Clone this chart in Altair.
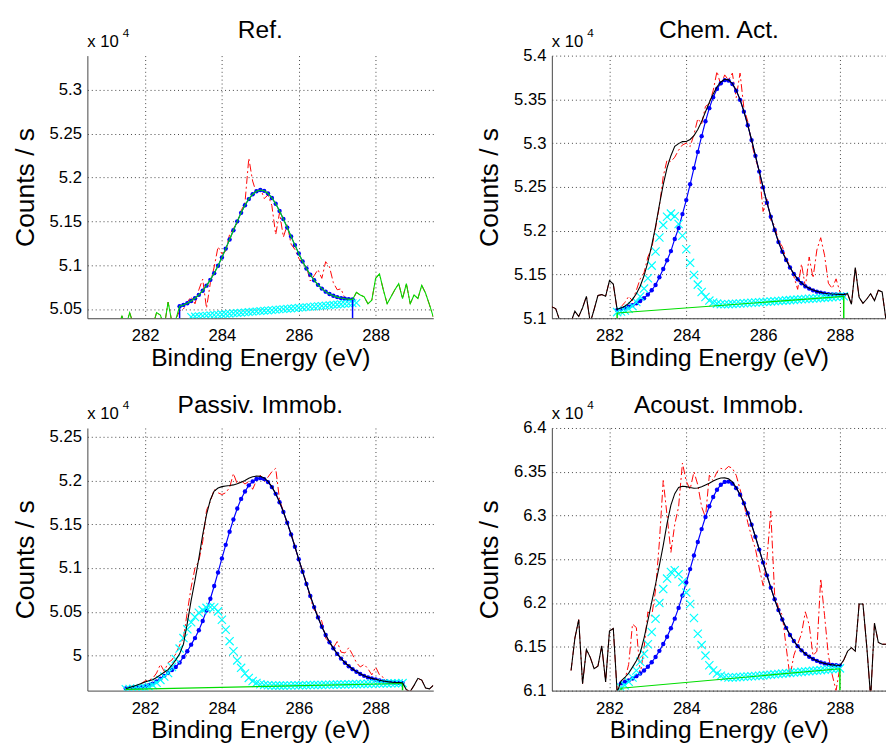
import altair as alt
import pandas as pd

FONT = "Liberation Sans"
RED = "#ff0000"
BLUE = "#0000ff"
CYAN = "#00ffff"
GREEN = "#00dd00"
BLACK = "#000000"
X_TICKS = [282, 284, 286, 288]

# ---------------- Ref. (top left) ----------------
tl_raw_left_start = 280.5
tl_raw_left = [5.030, 5.025, 5.030, 5.028, 5.032, 5.030, 5.027, 5.033, 5.030, 5.042,
               5.030, 5.046, 5.032, 5.028, 5.035, 5.030, 5.034, 5.030, 5.046, 5.043,
               5.030, 5.058, 5.035, 5.038]
tl_raw_in_start = 282.9
tl_raw_in = [5.048, 5.050, 5.058, 5.064, 5.056, 5.072, 5.084, 5.051, 5.080, 5.098,
             5.121, 5.113, 5.116, 5.135, 5.142, 5.148, 5.162, 5.171, 5.222, 5.196,
             5.182, 5.188, 5.176, 5.180, 5.168, 5.135, 5.160, 5.132, 5.146, 5.124,
             5.118, 5.108, 5.102, 5.098, 5.082, 5.088, 5.095, 5.085, 5.104, 5.098,
             5.080, 5.072, 5.073, 5.062, 5.060, 5.060]
tl_raw_right_start = 287.5
tl_raw_right = [5.069, 5.066, 5.064, 5.056, 5.060, 5.085, 5.090, 5.072, 5.056, 5.064,
                5.072, 5.079, 5.062, 5.079, 5.056, 5.066, 5.062, 5.077, 5.068, 5.055, 5.041]
tl_main_start = 282.9
tl_main = [5.0532, 5.0547, 5.0566, 5.0592, 5.0623, 5.0662, 5.0709, 5.0767, 5.0833, 5.0909,
           5.0994, 5.1088, 5.1189, 5.1293, 5.1398, 5.1500, 5.1597, 5.1683, 5.1754, 5.1809,
           5.1843, 5.1857, 5.1848, 5.1818, 5.1767, 5.1701, 5.1619, 5.1527, 5.1429, 5.1328,
           5.1229, 5.1133, 5.1043, 5.0962, 5.0891, 5.0829, 5.0776, 5.0733, 5.0698, 5.0672,
           5.0651, 5.0636, 5.0625, 5.0618, 5.0613, 5.0610]
tl_sec_start = 283.2
tl_sec = [5.0410, 5.0414, 5.0418, 5.0421, 5.0425, 5.0429, 5.0432, 5.0436, 5.0440, 5.0444,
          5.0447, 5.0451, 5.0455, 5.0458, 5.0462, 5.0466, 5.0470, 5.0473, 5.0477, 5.0481,
          5.0484, 5.0488, 5.0492, 5.0496, 5.0499, 5.0503, 5.0507, 5.0510, 5.0514, 5.0518,
          5.0522, 5.0525, 5.0529, 5.0533, 5.0536, 5.0540, 5.0544, 5.0548, 5.0551, 5.0555,
          5.0559, 5.0562, 5.0566, 5.0570]
tl_rule_E = [282.9, 287.4]
tl_rule_top = [5.0532, 5.0610]

# ---------------- Chem. Act. (top right) ----------------
tr_raw_left_start = 280.5
tr_raw_left = [5.113, 5.111, 5.098, 5.090, 5.092, 5.096, 5.108, 5.102, 5.112, 5.125,
               5.095, 5.110, 5.126, 5.127, 5.125, 5.143, 5.139]
tr_raw_in_start = 282.2
tr_raw_in = [5.109, 5.113, 5.118, 5.125, 5.120, 5.132, 5.145, 5.152,
             5.170, 5.180, 5.203, 5.228, 5.262, 5.281, 5.279, 5.284, 5.292, 5.298,
             5.300, 5.296, 5.310, 5.328, 5.322, 5.342, 5.345, 5.360, 5.382, 5.366,
             5.378, 5.372, 5.380, 5.352, 5.380, 5.340, 5.325, 5.300, 5.282, 5.268,
             5.222, 5.236, 5.212, 5.206, 5.188, 5.182, 5.168, 5.160, 5.148, 5.133,
             5.162, 5.136, 5.170, 5.146, 5.178, 5.192, 5.172, 5.140, 5.134, 5.145,
             5.130, 5.124]
tr_raw_right_start = 288.2
tr_raw_right = [5.128, 5.116, 5.158, 5.124, 5.117, 5.122, 5.128, 5.120, 5.132, 5.130, 5.098]
tr_fit_start = 282.2
tr_main = [5.1093, 5.1102, 5.1115, 5.1132, 5.1150, 5.1171, 5.1197, 5.1229,
           5.1271, 5.1320, 5.1380, 5.1468, 5.1562, 5.1662, 5.1767, 5.1906, 5.2030, 5.2190,
           5.2350, 5.2530, 5.2715, 5.2900, 5.3080, 5.3250, 5.3400, 5.3525, 5.3620, 5.3685,
           5.3720, 5.3715, 5.3675, 5.3600, 5.3495, 5.3360, 5.3205, 5.3035, 5.2855, 5.2675,
           5.2495, 5.2320, 5.2160, 5.2008, 5.1870, 5.1759, 5.1665, 5.1580, 5.1505, 5.1445,
           5.1400, 5.1364, 5.1339, 5.1319, 5.1304, 5.1293, 5.1283, 5.1276, 5.1273, 5.1272,
           5.1270, 5.1267]
tr_sec = [5.1070, 5.1077, 5.1089, 5.1108, 5.1138, 5.1185, 5.1248, 5.1339,
          5.1457, 5.1601, 5.1762, 5.1923, 5.2064, 5.2159, 5.2195, 5.2165, 5.2077, 5.1943,
          5.1788, 5.1633, 5.1495, 5.1384, 5.1300, 5.1243, 5.1202, 5.1179, 5.1167, 5.1161,
          5.1160, 5.1161, 5.1164, 5.1166, 5.1168, 5.1171, 5.1174, 5.1177, 5.1180, 5.1183,
          5.1186, 5.1189, 5.1192, 5.1195, 5.1198, 5.1201, 5.1204, 5.1207, 5.1210, 5.1213,
          5.1217, 5.1220, 5.1223, 5.1226, 5.1229, 5.1232, 5.1235, 5.1238, 5.1241, 5.1245,
          5.1248, 5.1251]
tr_env = [5.1103, 5.1116, 5.1138, 5.1170, 5.1215, 5.1280, 5.1366, 5.1485,
          5.1642, 5.1832, 5.2050, 5.2296, 5.2527, 5.2719, 5.2857, 5.2963, 5.2995, 5.3018,
          5.3020, 5.3042, 5.3086, 5.3156, 5.3249, 5.3359, 5.3465, 5.3563, 5.3643, 5.3699,
          5.3730, 5.3723, 5.3682, 5.3606, 5.3500, 5.3365, 5.3209, 5.3039, 5.2859, 5.2679,
          5.2499, 5.2324, 5.2163, 5.2011, 5.1873, 5.1762, 5.1668, 5.1583, 5.1508, 5.1448,
          5.1403, 5.1367, 5.1342, 5.1322, 5.1307, 5.1296, 5.1286, 5.1279, 5.1276, 5.1275,
          5.1273, 5.1270]
tr_base_E = [282.2, 288.1]
tr_base_v = [5.106, 5.125]

# ---------------- Passiv. Immob. (bottom left) ----------------
bl_raw_in_start = 281.5
bl_raw_in = [4.9625, 4.964, 4.966, 4.965, 4.968,
             4.971, 4.972, 4.974, 4.980, 4.990, 4.982, 4.992, 4.995, 5.002, 5.012,
             5.020, 5.050, 5.078, 5.100, 5.108, 5.130, 5.166, 5.176, 5.190, 5.186,
             5.184, 5.186, 5.192, 5.208, 5.196, 5.200, 5.196, 5.199, 5.190, 5.200,
             5.206, 5.198, 5.204, 5.210, 5.214, 5.178, 5.165, 5.150, 5.140, 5.125,
             5.108, 5.098, 5.082, 5.066, 5.052, 5.048, 5.039, 5.020, 5.015, 5.009,
             5.016, 5.004, 5.003, 5.009, 5.001, 4.992, 4.987, 4.990, 4.985, 4.978,
             4.987, 4.978, 4.975, 4.972, 4.970, 4.971, 4.968, 4.969]
bl_raw_right_start = 288.8
bl_raw_right = [4.961, 4.959, 4.966, 4.974, 4.972, 4.963, 4.962, 4.966]
bl_fit_start = 281.5
bl_main = [4.9625, 4.9628, 4.9632, 4.9637, 4.9642,
           4.9650, 4.9662, 4.9680, 4.9705, 4.9735, 4.9768, 4.9800, 4.9835, 4.9870, 4.9920,
           4.9985, 5.0050, 5.0125, 5.0200, 5.0290, 5.0395, 5.0515, 5.0650, 5.0795, 5.0950,
           5.1110, 5.1265, 5.1415, 5.1555, 5.1680, 5.1790, 5.1875, 5.1945, 5.1990, 5.2018,
           5.2027, 5.2016, 5.1982, 5.1925, 5.1848, 5.1752, 5.1641, 5.1517, 5.1383, 5.1243,
           5.1100, 5.0958, 5.0818, 5.0682, 5.0554, 5.0436, 5.0329, 5.0235, 5.0153, 5.0083,
           5.0019, 4.9966, 4.9919, 4.9879, 4.9845, 4.9815, 4.9790, 4.9769, 4.9751, 4.9738,
           4.9727, 4.9716, 4.9708, 4.9701, 4.9695, 4.9692, 4.9690, 4.9689]
bl_sec = [4.9616, 4.9618, 4.9620, 4.9623, 4.9627,
          4.9633, 4.9645, 4.9665, 4.9690, 4.9722, 4.9760, 4.9800, 4.9870, 4.9960, 5.0080,
          5.0200, 5.0300, 5.0380, 5.0440, 5.0490, 5.0520, 5.0545, 5.0555, 5.0550, 5.0505,
          5.0410, 5.0295, 5.0165, 5.0050, 4.9945, 4.9860, 4.9795, 4.9745, 4.9710, 4.9688,
          4.9673, 4.9665, 4.9660, 4.9658, 4.9657, 4.9657, 4.9657, 4.9658, 4.9659, 4.9660,
          4.9660, 4.9661, 4.9662, 4.9663, 4.9664, 4.9665, 4.9665, 4.9666, 4.9667, 4.9668,
          4.9669, 4.9670, 4.9671, 4.9672, 4.9673, 4.9674, 4.9675, 4.9676, 4.9677, 4.9678,
          4.9679, 4.9680, 4.9681, 4.9682, 4.9683, 4.9684, 4.9685, 4.9686]
bl_env = [4.9625, 4.9635, 4.9650, 4.9665, 4.9680,
          4.9698, 4.9712, 4.9725, 4.9750, 4.9780, 4.9810, 4.9840, 4.9890, 4.9950, 5.0020,
          5.0130, 5.0370, 5.0630, 5.0860, 5.1110, 5.1380, 5.1610, 5.1780, 5.1880, 5.1915,
          5.1930, 5.1938, 5.1943, 5.1950, 5.1962, 5.1980, 5.2000, 5.2025, 5.2043, 5.2050,
          5.2048, 5.2030, 5.1990, 5.1930, 5.1850, 5.1754, 5.1643, 5.1519, 5.1385, 5.1245,
          5.1102, 5.0960, 5.0820, 5.0684, 5.0556, 5.0438, 5.0331, 5.0237, 5.0155, 5.0085,
          5.0021, 4.9968, 4.9921, 4.9881, 4.9847, 4.9817, 4.9792, 4.9771, 4.9753, 4.9740,
          4.9729, 4.9718, 4.9710, 4.9703, 4.9697, 4.9694, 4.9692, 4.9690]
bl_base_E = [281.5, 288.7]
bl_base_v = [4.9614, 4.9681]

# ---------------- Acoust. Immob. (bottom right) ----------------
br_raw_left_start = 281.0
br_raw_left = [6.123, 6.160, 6.181, 6.108, 6.147, 6.138, 6.125, 6.128, 6.151, 6.110,
               6.168, 6.171, 6.098]
br_raw_in_start = 282.3
br_raw_in = [6.105, 6.112, 6.130, 6.176, 6.172, 6.118, 6.148,
             6.190, 6.185, 6.215, 6.270, 6.340, 6.300, 6.258, 6.290, 6.310, 6.360,
             6.339, 6.330, 6.350, 6.335, 6.310, 6.298, 6.346, 6.340, 6.350, 6.354,
             6.352, 6.356, 6.354, 6.346, 6.330, 6.314, 6.292, 6.276, 6.262, 6.240,
             6.220, 6.250, 6.305, 6.210, 6.195, 6.186, 6.150, 6.116, 6.140, 6.153,
             6.165, 6.190, 6.175, 6.140, 6.145, 6.228, 6.186, 6.140, 6.118, 6.100,
             6.127]
br_raw_right_start = 288.1
br_raw_right = [6.135, 6.145, 6.149, 6.145, 6.199, 6.199, 6.150, 6.092, 6.177, 6.155,
                6.153, 6.153]
br_fit_start = 282.3
br_main = [6.1083, 6.1099, 6.1116, 6.1138, 6.1165, 6.1196, 6.1230,
           6.1273, 6.1324, 6.1384, 6.1454, 6.1532, 6.1615, 6.1712, 6.1822, 6.1945, 6.2086,
           6.2235, 6.2388, 6.2544, 6.2698, 6.2845, 6.2983, 6.3106, 6.3211, 6.3294, 6.3352,
           6.3384, 6.3388, 6.3364, 6.3313, 6.3238, 6.3141, 6.3026, 6.2896, 6.2757, 6.2611,
           6.2463, 6.2317, 6.2176, 6.2043, 6.1920, 6.1812, 6.1717, 6.1636, 6.1566, 6.1508,
           6.1460, 6.1420, 6.1387, 6.1361, 6.1340, 6.1323, 6.1310, 6.1300, 6.1293, 6.1289,
           6.1286]
br_sec = [6.1035, 6.1060, 6.1100, 6.1150, 6.1230, 6.1330, 6.1420,
          6.1530, 6.1670, 6.1820, 6.2000, 6.2160, 6.2280, 6.2355, 6.2375, 6.2330, 6.2240,
          6.2120, 6.1990, 6.1830, 6.1650, 6.1520, 6.1400, 6.1290, 6.1230, 6.1195, 6.1170,
          6.1155, 6.1150, 6.1150, 6.1152, 6.1155, 6.1158, 6.1161, 6.1164, 6.1167, 6.1170,
          6.1174, 6.1178, 6.1182, 6.1186, 6.1190, 6.1194, 6.1198, 6.1202, 6.1206, 6.1210,
          6.1214, 6.1218, 6.1222, 6.1226, 6.1230, 6.1234, 6.1238, 6.1242, 6.1246, 6.1250,
          6.1254]
br_env = [6.1110, 6.1150, 6.1200, 6.1268, 6.1340, 6.1430, 6.1600,
          6.1800, 6.2010, 6.2215, 6.2430, 6.2660, 6.2910, 6.3120, 6.3250, 6.3320, 6.3335,
          6.3330, 6.3320, 6.3312, 6.3315, 6.3330, 6.3350, 6.3370, 6.3395, 6.3415, 6.3428,
          6.3430, 6.3420, 6.3385, 6.3320, 6.3240, 6.3142, 6.3027, 6.2897, 6.2758, 6.2612,
          6.2464, 6.2318, 6.2177, 6.2044, 6.1921, 6.1813, 6.1718, 6.1637, 6.1567, 6.1509,
          6.1461, 6.1421, 6.1388, 6.1362, 6.1341, 6.1324, 6.1311, 6.1301, 6.1294, 6.1290,
          6.1287]
br_base_E = [282.3, 288.0]
br_base_v = [6.1027, 6.125]


def seq(start, vals):
    return pd.DataFrame({"E": [round(start + 0.1 * i, 2) for i in range(len(vals))],
                         "v": vals})


def cat(*dfs):
    return pd.concat(dfs, ignore_index=True)


X_SHAPE = "M-1,-1L1,1M-1,1L1,-1"


def make_panel(title, title_dy, xdom, ydom, yticks, width, red_df, env_df, env_color,
               main_df, sec_df, base_df, rule_df, rule_color, sec_size):
    xs = alt.Scale(domain=xdom, nice=False, zero=False)
    ys = alt.Scale(domain=ydom, nice=False, zero=False)
    xax = alt.Axis(values=X_TICKS, format="d", title="Binding Energy (eV)")
    yax = alt.Axis(values=yticks, format="~g", title="Counts / s")
    X = alt.X("E:Q", scale=xs, axis=xax)
    Y = alt.Y("v:Q", scale=ys, axis=yax)

    layers = [
        alt.Chart(red_df).mark_line(color=RED, strokeWidth=1, strokeDash=[8, 3, 2, 3],
                                    clip=True).encode(x=X, y=Y),
        alt.Chart(main_df).mark_line(color=BLUE, strokeWidth=1.2, clip=True).encode(x=X, y=Y),
        alt.Chart(main_df).mark_point(filled=True, color=BLUE, size=20, opacity=1,
                                      clip=True).encode(x=X, y=Y),
        alt.Chart(sec_df).mark_point(shape=X_SHAPE, filled=False, color=CYAN, size=sec_size,
                                     strokeWidth=1.2, opacity=1, clip=True).encode(x=X, y=Y),
    ]
    if base_df is not None:
        layers.append(alt.Chart(base_df).mark_line(color=GREEN, strokeWidth=1.2,
                                                   clip=True).encode(x=X, y=Y))
    layers.append(alt.Chart(rule_df).mark_rule(color=rule_color, strokeWidth=1.5, clip=True)
                  .encode(x=X, y=alt.Y("v:Q", scale=ys, axis=yax), y2=alt.Y2("b:Q")))
    layers.append(alt.Chart(env_df).mark_line(color=env_color, strokeWidth=1.1,
                                              clip=True).encode(x=X, y=Y))
    labels = pd.DataFrame({"t": ["x 10"], "e": ["4"], "title": [title]})
    layers.append(alt.Chart(labels).mark_text(align="left", baseline="alphabetic",
                                              fontSize=17, font=FONT, color=BLACK)
                  .encode(x=alt.value(0), y=alt.value(-9), text="t:N"))
    layers.append(alt.Chart(labels).mark_text(align="left", baseline="alphabetic",
                                              fontSize=12, font=FONT, color=BLACK)
                  .encode(x=alt.value(36), y=alt.value(-19), text="e:N"))
    layers.append(alt.Chart(labels).mark_text(align="center", baseline="alphabetic",
                                              fontSize=25, font=FONT, color=BLACK)
                  .encode(x=alt.value(width / 2), y=alt.value(title_dy), text="title:N"))
    return alt.layer(*layers).properties(width=width, height=268)


def rules(Es, tops, bottom):
    return pd.DataFrame({"E": Es, "v": tops, "b": [bottom] * len(Es)})


tl = make_panel(
    "Ref.", -18, [280.5, 289.5], [5.0395, 5.339], [5.05, 5.1, 5.15, 5.2, 5.25, 5.3], 353,
    cat(seq(tl_raw_left_start, tl_raw_left), seq(tl_raw_in_start, tl_raw_in),
        seq(tl_raw_right_start, tl_raw_right)),
    cat(seq(tl_raw_left_start, tl_raw_left), seq(tl_main_start, tl_main),
        seq(tl_raw_right_start, tl_raw_right)),
    GREEN,
    seq(tl_main_start, tl_main), seq(tl_sec_start, tl_sec), None,
    rules(tl_rule_E, tl_rule_top, 5.0395), BLUE, 60)

tr = make_panel(
    "Chem. Act.", -18, [280.5, 289.2], [5.1, 5.4], [5.1, 5.15, 5.2, 5.25, 5.3, 5.35, 5.4], 341,
    cat(seq(tr_raw_left_start, tr_raw_left), seq(tr_raw_in_start, tr_raw_in),
        seq(tr_raw_right_start, tr_raw_right)),
    cat(seq(tr_raw_left_start, tr_raw_left), seq(tr_fit_start, tr_env),
        seq(tr_raw_right_start, tr_raw_right)),
    BLACK,
    seq(tr_fit_start, tr_main), seq(tr_fit_start, tr_sec),
    pd.DataFrame({"E": tr_base_E, "v": tr_base_v}),
    rules(tr_base_E, tr_base_v, 5.1), GREEN, 70)

bl = make_panel(
    "Passiv. Immob.", -15, [280.5, 289.5], [4.96, 5.26], [5.0, 5.05, 5.1, 5.15, 5.2, 5.25], 353,
    cat(seq(bl_raw_in_start, bl_raw_in), seq(bl_raw_right_start, bl_raw_right)),
    cat(seq(bl_fit_start, bl_env), seq(bl_raw_right_start, bl_raw_right)),
    BLACK,
    seq(bl_fit_start, bl_main), seq(bl_fit_start, bl_sec),
    pd.DataFrame({"E": bl_base_E, "v": bl_base_v}),
    rules(bl_base_E, bl_base_v, 4.96), GREEN, 70)

br = make_panel(
    "Acoust. Immob.", -15, [280.5, 289.2], [6.1, 6.4], [6.1, 6.15, 6.2, 6.25, 6.3, 6.35, 6.4], 341,
    cat(seq(br_raw_left_start, br_raw_left), seq(br_raw_in_start, br_raw_in),
        seq(br_raw_right_start, br_raw_right)),
    cat(seq(br_raw_left_start, br_raw_left), seq(br_fit_start, br_env),
        seq(br_raw_right_start, br_raw_right)),
    BLACK,
    seq(br_fit_start, br_main), seq(br_fit_start, br_sec),
    pd.DataFrame({"E": br_base_E, "v": br_base_v}),
    rules(br_base_E, br_base_v, 6.1), GREEN, 70)

chart = alt.concat(tl, tr, bl, br, columns=2, spacing={"row": 24, "column": 43},
                   align="each").properties(
    padding={"left": 3, "top": 3, "right": 0, "bottom": 0}
).configure_view(stroke=None).configure_axis(
    labelFont=FONT, titleFont=FONT, labelFontSize=17,
    labelColor=BLACK, titleColor=BLACK, titleFontWeight="normal",
    domainColor="#444444", domainWidth=1, ticks=False,
    grid=True, gridColor="#000000", gridDash=[1, 3], gridOpacity=0.75, gridWidth=1,
).configure_axisX(labelPadding=10, titlePadding=2, titleFontSize=25).configure_axisY(
    labelPadding=6, titlePadding=10, titleFontSize=27)

chart.save("out.html", embed_options={"renderer": "svg", "actions": False})
